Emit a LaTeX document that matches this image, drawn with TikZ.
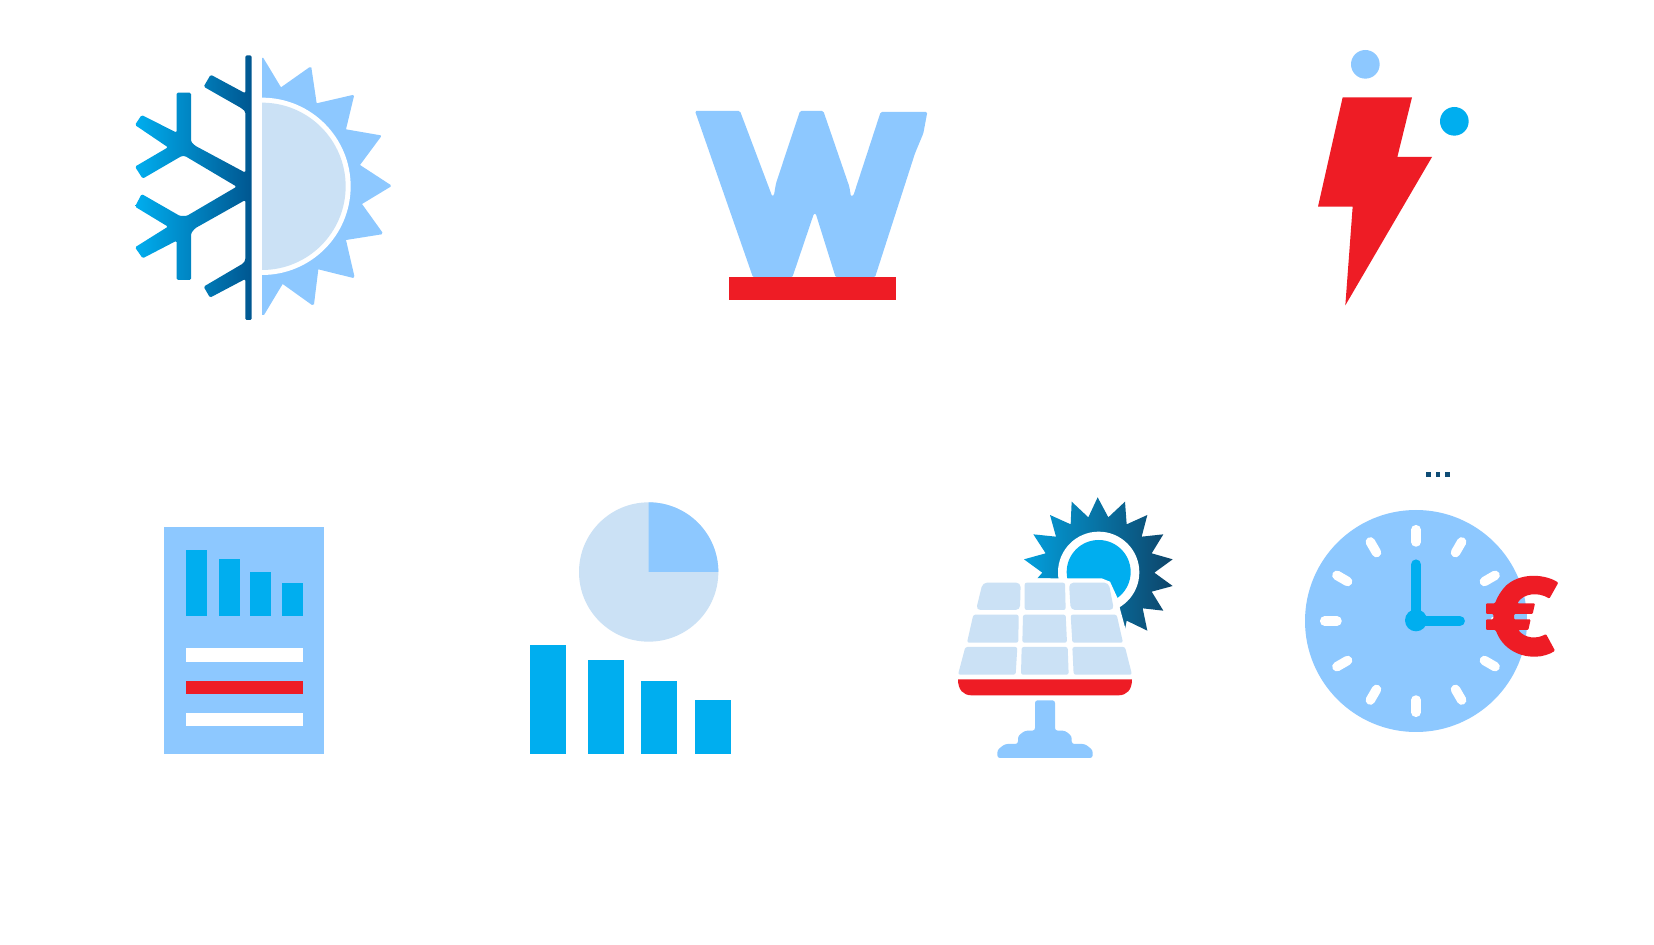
\documentclass[tikz,border=0pt]{standalone}
\usepackage{tikz}
\usepackage{xcolor}
\usetikzlibrary{calc}
\definecolor{skyblue}{HTML}{8DC8FF}
\definecolor{paleblue}{HTML}{CBE1F5}
\definecolor{cyanblue}{HTML}{00AEEF}
\definecolor{flagred}{HTML}{EE1C25}
\definecolor{deepblue}{HTML}{0F4C75}
\tikzset{
  zoomed/.style={scale=1/3},
  tick/.style={white,line width=5.4pt,line cap=round},
  hand/.style={cyanblue,line width=5.6pt,line cap=round}
}

\begin{document}
\begin{tikzpicture}[x=0.02cm,y=-0.02cm]
\fill[white] (0,0) rectangle (1654,945);

% snowflake and half sun
\begin{scope}[shift={(100,30)},zoomed]
\path[left color=cyanblue,right color=cyanblue!55!black!90!blue,rounded corners=0.8pt]
  (455,76) -- (455,870) -- (436,870) -- (436,747) -- (330,803) -- (311,770) -- (430,700) -- (436,690)
  -- (436,510) -- (285,595) -- (273,610) -- (273,750) -- (230,750) -- (230,632) -- (128,685)
  -- (105,652) -- (204,590) -- (105,530) -- (125,492) -- (240,558) -- (260,558) -- (410,470)
  -- (255,378) -- (245,378) -- (128,446) -- (105,410) -- (204,352) -- (105,285) -- (125,255)
  -- (230,308) -- (230,188) -- (273,188) -- (273,335) -- (285,347) -- (436,428) -- (436,245)
  -- (425,235) -- (311,170) -- (332,134) -- (436,190) -- (436,76) -- cycle;
\fill[skyblue] (486,84) -- (490,84) -- (543,172) -- (628,112) -- (634,112) -- (650,220) -- (758,195)
  -- (762,198) -- (738,298) -- (842,316) -- (843,320) -- (780,405) -- (872,465) -- (872,470)
  -- (786,522) -- (847,607) -- (845,613) -- (738,630) -- (763,738) -- (760,744) -- (655,718)
  -- (642,823) -- (636,825) -- (548,762) -- (492,855) -- (486,855) -- cycle;
\fill[white] (486,203) arc (-90:90:266);
\fill[paleblue] (486,218) arc (-90:90:251);
\end{scope}

% W with red bar
\begin{scope}[shift={(660,80)},zoomed]
\fill[skyblue,rounded corners=0.8pt] (105,93) -- (240,93) -- (337,350) -- (342,345) -- (348,310) -- (420,93)
  -- (490,93) -- (568,320) -- (573,350) -- (580,347) -- (662,96) -- (802,96) -- (790,160)
  -- (765,220) -- (645,592) -- (527,592) -- (467,400) -- (462,400) -- (397,592) -- (279,592) -- cycle;
\fill[flagred] (207,592) rectangle (708,660);
\end{scope}

% bolt
\begin{scope}[shift={(1280,30)},zoomed]
\fill[flagred] (188,202) -- (396,202) -- (352,381) -- (456,381) -- (196,826) -- (218,530) -- (114,530) -- cycle;
\fill[skyblue] (256,103) circle (43);
\fill[cyanblue] (523,274) circle (43);
\end{scope}

% report sheet
\begin{scope}[shift={(140,510)},zoomed]
\fill[skyblue] (72,50) rectangle (551,732);
\fill[cyanblue] (137,121) rectangle (200,319);
\fill[cyanblue] (238,148) rectangle (300,319);
\fill[cyanblue] (330,186) rectangle (393,319);
\fill[cyanblue] (425,220) rectangle (488,319);
\fill[white] (137,415) rectangle (488,455);
\fill[flagred] (137,513) rectangle (488,552);
\fill[white] (137,609) rectangle (488,648);
\end{scope}

% pie and bars
\begin{scope}[shift={(510,490)},zoomed]
\fill[paleblue] (416,246) circle (209);
\fill[skyblue] (416,246) -- (416,37) arc (-90:0:209) -- cycle;
\fill[cyanblue] (60,466) rectangle (169,793);
\fill[cyanblue] (234,511) rectangle (342,793);
\fill[cyanblue] (392,574) rectangle (500,793);
\fill[cyanblue] (555,630) rectangle (663,793);
\end{scope}

% solar panel
\begin{scope}[shift={(950,490)},zoomed]
\path[left color=cyanblue!85!deepblue,right color=deepblue!90!black]
  (443,22) -- (475,82) -- (525,35) -- (530,103) -- (592,75) -- (575,140) -- (640,133) -- (605,190)
  -- (668,208) -- (613,248) -- (668,288) -- (605,305) -- (640,362) -- (578,355) -- (592,422)
  -- (530,392) -- (525,417) -- (510,370) -- (300,265) -- (262,265) -- (277,248) -- (222,208)
  -- (287,190) -- (250,133) -- (318,140) -- (300,75) -- (362,103) -- (365,35) -- (415,82) -- cycle;
\fill[white] (446,247) circle (122);
\fill[cyanblue] (446,246) circle (96);
\fill[white] (200,265) -- (455,265) -- (480,275) -- (503,325) -- (511,360) -- (530,430) -- (570,580) -- (0,580) -- cycle;
\fill[paleblue,rounded corners=2.5pt] (78,360) -- (98,278) -- (212,278) -- (210,360) -- cycle;
\fill[paleblue,rounded corners=1.2pt] (224,278) -- (345,278) -- (347,360) -- (224,360) -- cycle;
\fill[paleblue,rounded corners=2.5pt] (357,278) -- (476,278) -- (492,360) -- (362,360) -- cycle;
\fill[paleblue,rounded corners=1.2pt] (51,458) -- (70,374) -- (206,374) -- (205,458) -- cycle;
\fill[paleblue,rounded corners=1.2pt] (219,374) -- (347,374) -- (351,458) -- (217,458) -- cycle;
\fill[paleblue,rounded corners=1.2pt] (362,374) -- (500,374) -- (519,458) -- (367,458) -- cycle;
\fill[paleblue,rounded corners=1.2pt] (24,554) -- (46,471) -- (202,471) -- (197,554) -- cycle;
\fill[paleblue,rounded corners=1.2pt] (215,471) -- (353,471) -- (356,554) -- (213,554) -- cycle;
\fill[paleblue,rounded corners=1.2pt] (367,471) -- (525,471) -- (546,554) -- (371,554) -- cycle;
\fill[flagred] (24,568) -- (546,568) .. controls (546,600) and (530,616) .. (505,616)
  -- (65,616) .. controls (40,616) and (24,600) .. (24,568) -- cycle;
\fill[skyblue,rounded corners=1.5pt] (255,631) -- (315,631) -- (315,722) -- (345,722) -- (365,738) -- (365,762)
  -- (405,762) -- (428,780) -- (428,804) -- (142,804) -- (142,780) -- (165,762) -- (204,762)
  -- (204,738) -- (225,722) -- (255,722) -- cycle;
\end{scope}

% clock and euro
\begin{scope}[shift={(1290,460)},zoomed]
\fill[deepblue] (407,37) rectangle (422,52);
\fill[deepblue] (437,37) rectangle (451,52);
\fill[deepblue] (466,37) rectangle (481,52);
\fill[skyblue] (378,483) circle (333);
\foreach \ang in {0,30,...,330}
  \draw[tick] ($(378,483)+(\ang:237)$) -- ($(378,483)+(\ang:274)$);
\draw[hand,rounded corners=4pt] (378,313) -- (378,483) -- (510,483);
\fill[cyanblue] (378,481) circle (33);
\fill[flagred,rounded corners=0.6pt] (805,368) .. controls (770,345) and (700,335) .. (650,375)
  .. controls (635,390) and (622,410) .. (615,430) -- (588,430) -- (588,462) -- (610,462) -- (610,478)
  -- (588,478) -- (588,510) -- (617,510) .. controls (635,560) and (680,590) .. (735,590)
  .. controls (755,590) and (780,583) .. (795,572) -- (768,522) .. controls (740,538) and (705,535) .. (685,510)
  -- (715,510) -- (722,478) -- (672,478) -- (672,462) -- (728,462) -- (735,430) -- (682,430)
  .. controls (700,400) and (745,395) .. (778,416) -- cycle;
\end{scope}

\end{tikzpicture}
\end{document}
